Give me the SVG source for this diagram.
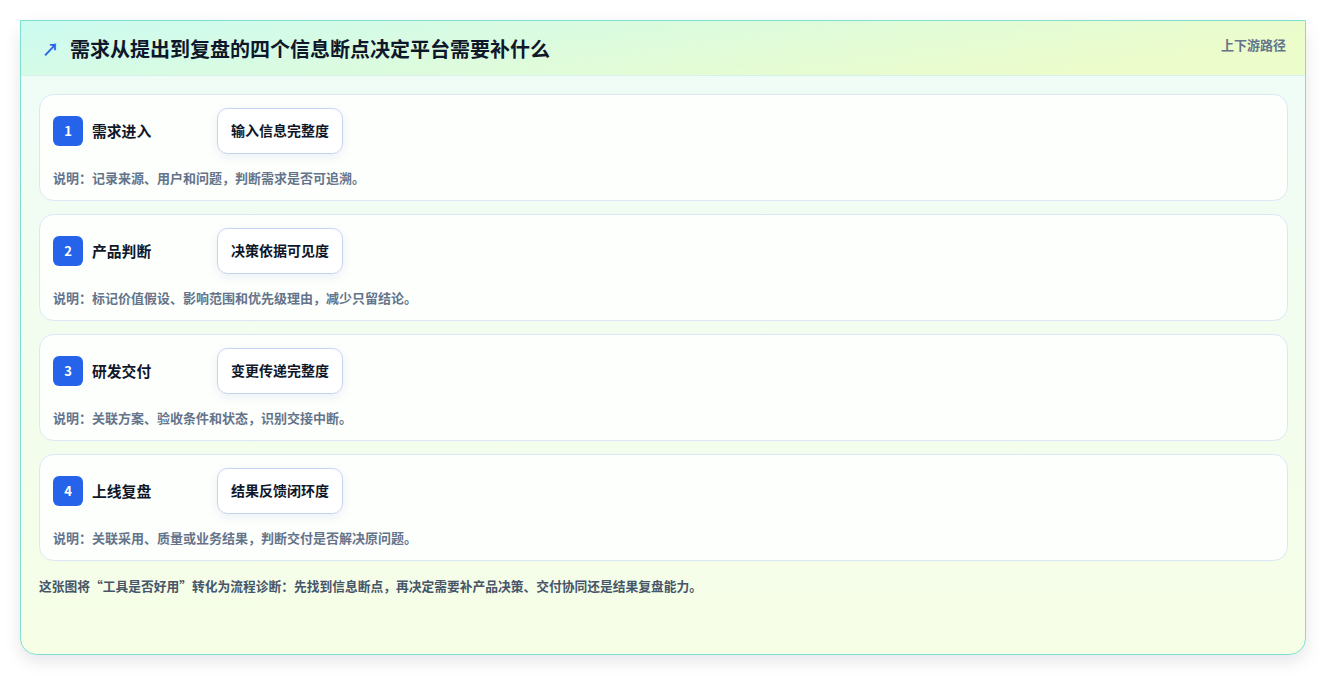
<svg xmlns="http://www.w3.org/2000/svg" width="1327" height="676" viewBox="0 0 1327 676">
<style>
.t{font-family:"Noto Sans CJK SC","Noto Sans",sans-serif;font-weight:700}
.title{font-size:20px;fill:#0f172a}
.tag{font-size:13px;fill:#64748b}
.row{fill:#fdfffd;stroke:#dbe7f7;stroke-width:1}
.badge{fill:#2563eb}
.num{font-size:13px;fill:#ffffff}
.lbl{font-size:14.8px;fill:#0f172a}
.pill{fill:#ffffff;stroke:#c3d4f2;stroke-width:1}
.ptxt{font-size:14px;fill:#0f172a}
.desc{font-size:13px;fill:#64748b}
.foot{font-size:13px;fill:#475569}
</style>
<defs>
<linearGradient id="hdr" x1="0" y1="0" x2="1" y2="0.3">
<stop offset="0" stop-color="#ccfbf1"/>
<stop offset="1" stop-color="#ecfccb"/>
</linearGradient>
<linearGradient id="body" x1="0" y1="0" x2="0" y2="1">
<stop offset="0" stop-color="#effcf8"/>
<stop offset="1" stop-color="#f6fee6"/>
</linearGradient>
<filter id="sh" x="-5%" y="-5%" width="110%" height="115%">
<feDropShadow dx="0" dy="6" stdDeviation="8" flood-color="#0f172a" flood-opacity="0.10"/>
</filter>
<filter id="psh" x="-20%" y="-30%" width="140%" height="170%">
<feDropShadow dx="0" dy="3" stdDeviation="4" flood-color="#1e3a8a" flood-opacity="0.08"/>
</filter>
</defs>
<rect width="1327" height="676" fill="#ffffff"/>
<g id="card">
<rect x="20.5" y="20.5" width="1285" height="634" rx="16" fill="url(#body)" stroke="#7ddfcf" stroke-width="1" filter="url(#sh)"/>
<path d="M20.5 20.5 H1305.5 V75.5 H20.5 Z" fill="url(#hdr)"/>
<line x1="20.5" y1="20.5" x2="1305.5" y2="20.5" stroke="#7ddfcf"/>
<line x1="20.5" y1="20.5" x2="20.5" y2="75.5" stroke="#7ddfcf"/>
<line x1="1305.5" y1="20.5" x2="1305.5" y2="75.5" stroke="#7ddfcf"/>
<line x1="21" y1="75.5" x2="1305" y2="75.5" stroke="#d6f0ea"/>
<text class="t" x="42" y="56" font-size="17" fill="#2563eb">↗</text>
<text class="t title" x="70" y="57">需求从提出到复盘的四个信息断点决定平台需要补什么</text>
<text class="t tag" x="1286" y="49.5" text-anchor="end">上下游路径</text>
</g>
<g id="step1">
<rect class="row" x="39.5" y="94.5" width="1248" height="106" rx="14"/>
<rect class="badge" x="53" y="116" width="30" height="30" rx="6"/>
<text class="t num" x="68" y="135.5" text-anchor="middle">1</text>
<text class="t lbl" x="92" y="137">需求进入</text>
<rect class="pill" x="217.5" y="108.5" width="125" height="45" rx="10" filter="url(#psh)"/>
<text class="t ptxt" x="280" y="136" text-anchor="middle">输入信息完整度</text>
<text class="t desc" x="53" y="182.5">说明：记录来源、用户和问题，判断需求是否可追溯。</text>
</g>
<g id="step2">
<rect class="row" x="39.5" y="214.5" width="1248" height="106" rx="14"/>
<rect class="badge" x="53" y="236" width="30" height="30" rx="6"/>
<text class="t num" x="68" y="255.5" text-anchor="middle">2</text>
<text class="t lbl" x="92" y="257">产品判断</text>
<rect class="pill" x="217.5" y="228.5" width="125" height="45" rx="10" filter="url(#psh)"/>
<text class="t ptxt" x="280" y="256" text-anchor="middle">决策依据可见度</text>
<text class="t desc" x="53" y="302.5">说明：标记价值假设、影响范围和优先级理由，减少只留结论。</text>
</g>
<g id="step3">
<rect class="row" x="39.5" y="334.5" width="1248" height="106" rx="14"/>
<rect class="badge" x="53" y="356" width="30" height="30" rx="6"/>
<text class="t num" x="68" y="375.5" text-anchor="middle">3</text>
<text class="t lbl" x="92" y="377">研发交付</text>
<rect class="pill" x="217.5" y="348.5" width="125" height="45" rx="10" filter="url(#psh)"/>
<text class="t ptxt" x="280" y="376" text-anchor="middle">变更传递完整度</text>
<text class="t desc" x="53" y="422.5">说明：关联方案、验收条件和状态，识别交接中断。</text>
</g>
<g id="step4">
<rect class="row" x="39.5" y="454.5" width="1248" height="106" rx="14"/>
<rect class="badge" x="53" y="476" width="30" height="30" rx="6"/>
<text class="t num" x="68" y="495.5" text-anchor="middle">4</text>
<text class="t lbl" x="92" y="497">上线复盘</text>
<rect class="pill" x="217.5" y="468.5" width="125" height="45" rx="10" filter="url(#psh)"/>
<text class="t ptxt" x="280" y="496" text-anchor="middle">结果反馈闭环度</text>
<text class="t desc" x="53" y="542.5">说明：关联采用、质量或业务结果，判断交付是否解决原问题。</text>
</g>
<g id="connectors"></g>
<text class="t foot" x="39" y="591" textLength="663" lengthAdjust="spacingAndGlyphs">这张图将“工具是否好用”转化为流程诊断：先找到信息断点，再决定需要补产品决策、交付协同还是结果复盘能力。</text>
</svg>
